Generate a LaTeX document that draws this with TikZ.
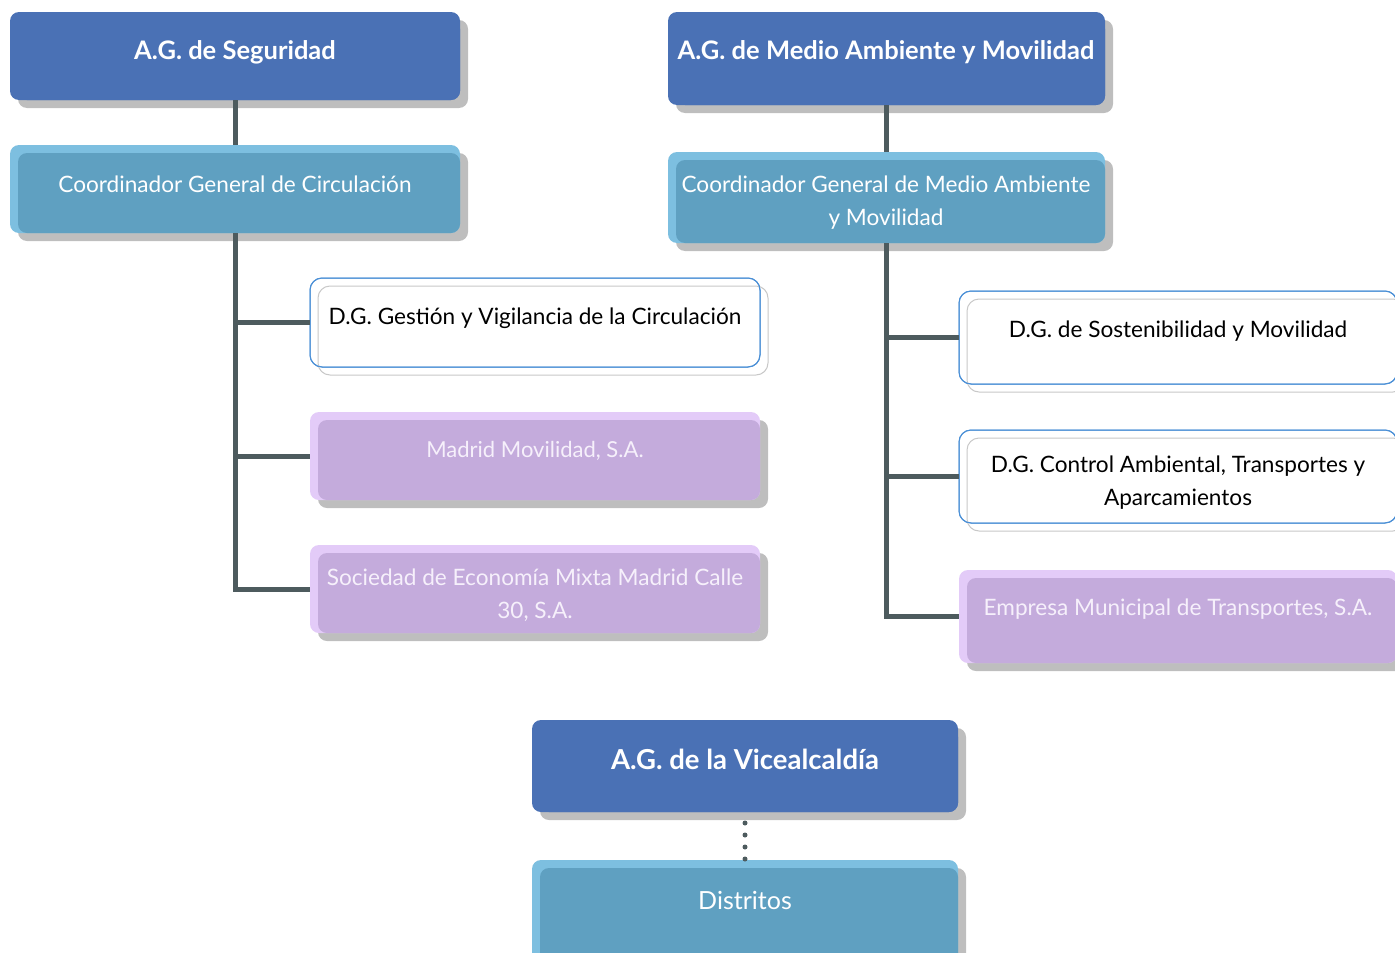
\documentclass[tikz,border=0pt]{standalone}
\usepackage{fontspec}
\setmainfont{Lato}
\usetikzlibrary{calc}
\definecolor{dblue}{HTML}{4A71B5}
\definecolor{mblue}{HTML}{5FA0C1}
\definecolor{lblue}{HTML}{7DBFE0}
\definecolor{mpurp}{HTML}{C4ABDC}
\definecolor{lpurp}{HTML}{E3CBF8}
\definecolor{shc}{HTML}{BEBEBE}
\definecolor{conc}{HTML}{4D5B5E}
\definecolor{olblue}{HTML}{4A8FD6}
\definecolor{olgray}{HTML}{C8C8C8}
\definecolor{ptext}{HTML}{F6F0FB}
\newcommand\layerbox[7]{%
  \fill[shc, rounded corners=9pt] (#2+8,#3+8) rectangle (#4+8,#5+8);
  \node[fill=#6, rounded corners=9pt, inner sep=0pt, outer sep=0pt, minimum width={#4-#2}, minimum height={#5-#3}] (#1) at ({(#2+#4)/2},{(#3+#5)/2}) {};
  \fill[#7, rounded corners=9pt] (#2+8,#3+8) rectangle (#4,#5);
}
\newcommand\linebox[5]{%
  \fill[white, rounded corners=12pt] (#2+8,#3+8) rectangle (#4+8,#5+8);
  \node[fill=white, draw=olblue, line width=1pt, rounded corners=12pt, inner sep=0pt, outer sep=0pt, minimum width={#4-#2}, minimum height={#5-#3}] (#1) at ({(#2+#4)/2},{(#3+#5)/2}) {};
  \draw[olgray, line width=1pt, rounded corners=12pt] (#2+8,#3+8) rectangle (#4+8,#5+8);
  \draw[olblue, line width=1pt, rounded corners=12pt] (#2,#3) rectangle (#4,#5);
}
\tikzset{
  tw/.style={text=white, font=\fontsize{22.6}{33}\selectfont, anchor=base, align=center, inner sep=0pt},
  tb/.style={tw, font=\bfseries\fontsize{25.5}{33}\selectfont},
  tk/.style={tw, text=black},
  tp/.style={tw, text=ptext},
  conn/.style={conc, line width=5pt},
  dots/.style={conc, line width=5pt, line cap=round, dash pattern=on 0pt off 12pt}
}
\begin{document}
\begin{tikzpicture}[x=1pt, y=-1pt]
\useasboundingbox (0,0) rectangle (1395,953);
\clip (0,0) rectangle (1395,953);
% left column
\layerbox{seg}{10}{12}{460}{100}{dblue}{dblue}
\layerbox{cgc}{10}{145}{460}{233}{lblue}{mblue}
\linebox{dgg}{310}{278}{760}{367}
\layerbox{mm}{310}{412}{760}{500}{lpurp}{mpurp}
\layerbox{sem}{310}{545}{760}{633}{lpurp}{mpurp}
% right column
\layerbox{ama}{668}{12}{1105}{105}{dblue}{dblue}
\layerbox{cma}{668}{152}{1105}{243}{lblue}{mblue}
\linebox{dgs}{959}{291}{1397}{384}
\linebox{dgc}{959}{430}{1397}{523}
\layerbox{emt}{959}{570}{1397}{663}{lpurp}{mpurp}
% bottom
\layerbox{vic}{532}{720}{958}{812}{dblue}{dblue}
\layerbox{dis}{532}{860}{958}{970}{lblue}{mblue}
% connectors
\draw[conn] (seg.south) -- (cgc.north);
\draw[conn] (cgc.south) |- (dgg.west);
\draw[conn] (cgc.south) |- (mm.west);
\draw[conn] (cgc.south) |- (sem.west);
\draw[conn] (ama.south) -- (cma.north);
\draw[conn] (cma.south) |- (dgs.west);
\draw[conn] (cma.south) |- (dgc.west);
\draw[conn] (cma.south) |- (emt.west);
\draw[dots] ([yshift=-11pt]vic.south) -- ([yshift=0.5pt]dis.north);
% texts
\node[tb] (segt) at (235,59) {A.G. de Seguridad};
\node[tw] (cgct) at (235,192) {Coordinador General de Circulación};
\node[tk] (dggt) at (535,324) {D.G. Gestión y Vigilancia de la Circulación};
\node[tp, font=\fontsize{22}{33}\selectfont] (mmt) at (535,457) {Madrid Movilidad, S.A.};
\node[tp] (semt) at (535,618) {Sociedad de Economía Mixta Madrid Calle\\30, S.A.};
\node[tb] (amat) at (886,59) {A.G. de Medio Ambiente y Movilidad};
\node[tw] (cmat) at (886,225) {Coordinador General de Medio Ambiente\\y Movilidad};
\node[tk] (dgst) at (1178,337) {D.G. de Sostenibilidad y Movilidad};
\node[tk] (dgct) at (1178,505) {D.G. Control Ambiental, Transportes y\\Aparcamientos};
\node[tp] (emtt) at (1178,615) {Empresa Municipal de Transportes, S.A.};
\node[tb, font=\bfseries\fontsize{27.5}{33}\selectfont] (vict) at (745,769) {A.G. de la Vicealcaldía};
\node[tw, font=\fontsize{25}{33}\selectfont] (dist) at (745,909) {Distritos};
\end{tikzpicture}
\end{document}
